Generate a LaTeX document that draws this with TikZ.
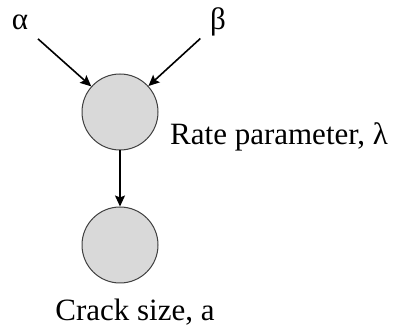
\documentclass[tikz,border=0pt]{standalone}
\usepackage{fontspec}
\setmainfont{Liberation Serif}
\usetikzlibrary{arrows.meta}
\definecolor{nodegray}{HTML}{D9D9D9}
\definecolor{edgegray}{HTML}{404040}
\begin{document}
\begin{tikzpicture}[
        x=1pt, y=-1pt,
        every node/.style={font=\fontsize{31}{37}\selectfont},
        var/.style={circle, draw=edgegray, line width=1pt, fill=nodegray, minimum size=76pt, inner sep=0pt},
        param/.style={inner sep=0pt, anchor=base},
        arrow/.style={line width=1.6pt, -{Stealth[length=11pt, width=10pt, inset=2pt]}}
        ]
        \useasboundingbox (0,0) rectangle (402,331);

        % Hyperparameters
        \node[param] (alpha) at (20,30) {α};
        \node[param] (beta) at (218,30) {β};

        % Random variables
        \node[var] (lam) at (120,112) {};
        \node[var] (crack) at (120,245) {};

        % Labels
        \node[anchor=base west, inner sep=0pt] (lamlabel) at (170,145) {Rate parameter, λ};
        \node[anchor=base, inner sep=0pt] (cracklabel) at (135,320) {Crack size, a};

        % Dependencies
        \draw[arrow, shorten <=13pt] (alpha) -- (lam);
        \draw[arrow, shorten <=13pt] (beta) -- (lam);
        \draw[arrow] (lam) -- (crack);

    \end{tikzpicture}
\end{document}
